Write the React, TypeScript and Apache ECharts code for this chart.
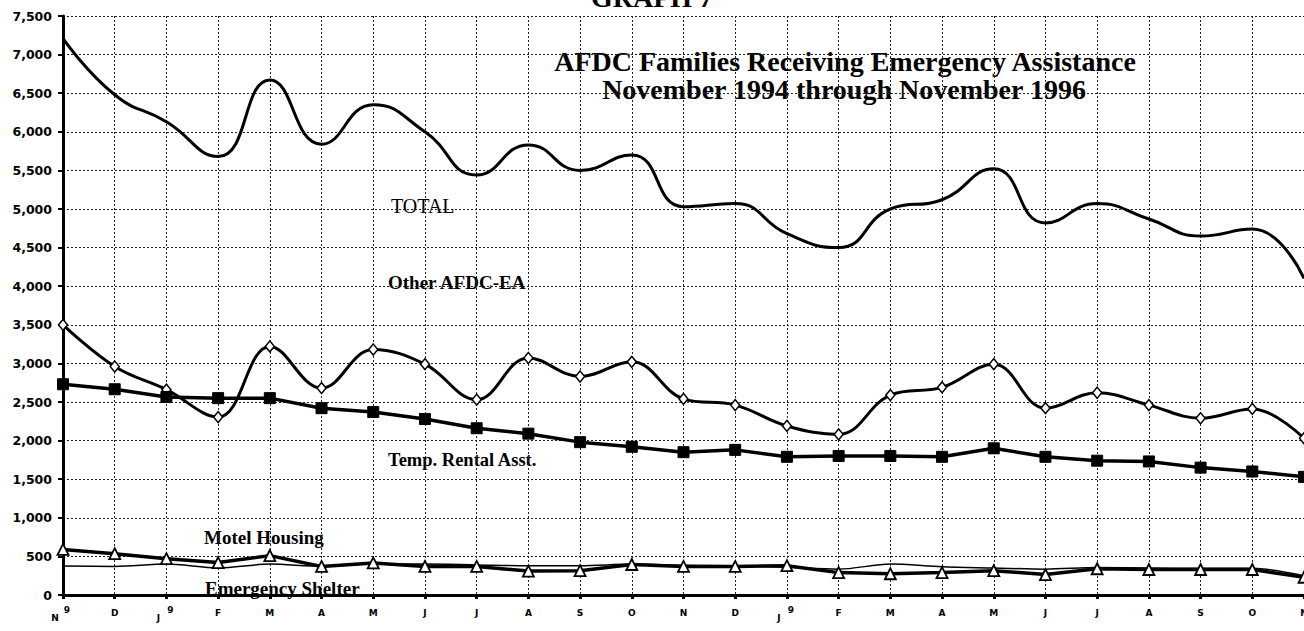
import React, { useEffect, useRef } from "react";
import * as echarts from "echarts";

const categories = [
  "Nov-94", "Dec-94", "Jan-95", "Feb-95", "Mar-95", "Apr-95", "May-95", "Jun-95", "Jul-95",
  "Aug-95", "Sep-95", "Oct-95", "Nov-95", "Dec-95", "Jan-96", "Feb-96", "Mar-96", "Apr-96",
  "May-96", "Jun-96", "Jul-96", "Aug-96", "Sep-96", "Oct-96", "Nov-96",
];
const monthLetters = ["N", "D", "J", "F", "M", "A", "M", "J", "J", "A", "S", "O", "N", "D", "J", "F", "M", "A", "M", "J", "J", "A", "S", "O", "N"];
const yearMarks = ["94", "", "95", "", "", "", "", "", "", "", "", "", "", "", "96", "", "", "", "", "", "", "", "", "", ""];

const total = [7210, 6480, 6130, 5680, 6670, 5840, 6350, 6000, 5440, 5830, 5500, 5700, 5030, 5070, 4680, 4500, 5000, 5120, 5520, 4820, 5070, 4870, 4650, 4740, 4100];
const otherAfdcEa = [3500, 2960, 2660, 2305, 3220, 2680, 3180, 2990, 2530, 3070, 2830, 3020, 2540, 2460, 2190, 2080, 2590, 2690, 2990, 2420, 2620, 2460, 2290, 2410, 2030];
const tempRental = [2730, 2665, 2565, 2550, 2550, 2420, 2370, 2280, 2160, 2090, 1980, 1920, 1850, 1880, 1790, 1800, 1800, 1790, 1900, 1790, 1740, 1730, 1650, 1600, 1530];
const motelHousing = [590, 535, 470, 420, 510, 370, 415, 370, 370, 310, 315, 395, 370, 370, 380, 290, 275, 290, 315, 265, 340, 330, 330, 330, 230];
const emergencyShelter = [375, 370, 400, 350, 400, 370, 400, 400, 390, 380, 380, 400, 385, 380, 360, 335, 400, 365, 350, 335, 355, 350, 345, 345, 250];

const yTicks = { min: 0, max: 7500, interval: 500 };

const serif = "'Liberation Serif', 'Times New Roman', serif";
const sansBold = "'DejaVu Sans', Arial, sans-serif";

export default function App() {
  const ref = useRef<HTMLDivElement>(null);
  useEffect(() => {
    if (!ref.current) return;
    const chart = echarts.init(ref.current, undefined, { renderer: "svg" });
    const labelBase = { color: "#000", fontFamily: sansBold, fontWeight: "bold", fontSize: 9 };
    const option: any = {
      animation: false,
      backgroundColor: "#ffffff",
      grid: { left: 63, right: 0, top: 16, bottom: 36, containLabel: false, outerBoundsMode: "none" },
      xAxis: [
        {
          type: "category",
          data: categories,
          boundaryGap: false,
          axisLine: { lineStyle: { color: "#000", width: 3 } },
          axisTick: { show: true, alignWithLabel: true, length: 4, lineStyle: { color: "#000", width: 3 } },
          splitLine: { show: true, lineStyle: { color: "#222", width: 1, type: [2, 2] } },
          axisLabel: {
            interval: 0,
            margin: 12,
            hideOverlap: false,
            ...labelBase,
            lineHeight: 12,
            formatter: (_v: string, i: number) =>
              yearMarks[i] ? "{s|" + monthLetters[i] + "}" : monthLetters[i],
            rich: { s: { ...labelBase, lineHeight: 12, padding: [9, 16, 0, 0] } },
          },
        },
        {
          type: "category",
          data: categories,
          boundaryGap: false,
          position: "bottom",
          axisLine: { show: false, onZero: false },
          axisTick: { show: false },
          splitLine: { show: false },
          axisLabel: {
            interval: 0,
            margin: 2,
            ...labelBase,
            lineHeight: 26,
            formatter: (_v: string, i: number) =>
              yearMarks[i] ? "{d|" + yearMarks[i][0] + "}\n{d|" + yearMarks[i][1] + "}" : "",
            rich: { d: { ...labelBase, lineHeight: 26, padding: [0, 0, 0, 8] } },
          },
        },
      ],
      yAxis: {
        type: "value",
        min: yTicks.min,
        max: yTicks.max,
        interval: yTicks.interval,
        axisLine: { show: true, lineStyle: { color: "#000", width: 3 } },
        axisTick: { show: true, length: 5, lineStyle: { color: "#000", width: 2 } },
        splitLine: { show: true, lineStyle: { color: "#222", width: 1, type: [2, 2] } },
        axisLabel: {
          margin: 11,
          color: "#000",
          fontFamily: sansBold,
          fontWeight: "bold",
          fontSize: 12.5,
          formatter: (v: number) => v.toLocaleString("en-US"),
        },
      },
      series: [
        {
          name: "TOTAL",
          type: "line",
          data: total,
          smooth: 0.5,
          showSymbol: false,
          symbol: "none",
          lineStyle: { color: "#000", width: 3 },
          z: 3,
        },
        {
          name: "Other AFDC-EA",
          type: "line",
          data: otherAfdcEa,
          smooth: 0.4,
          symbol: "diamond",
          symbolSize: [9, 11],
          itemStyle: { color: "#fff", borderColor: "#000", borderWidth: 1.5 },
          lineStyle: { color: "#000", width: 3 },
          z: 4,
        },
        {
          name: "Temp. Rental Asst.",
          type: "line",
          data: tempRental,
          symbol: "rect",
          symbolSize: 11,
          itemStyle: { color: "#000", borderColor: "#000" },
          lineStyle: { color: "#000", width: 3.5 },
          z: 4,
        },
        {
          name: "Emergency Shelter",
          type: "line",
          data: emergencyShelter,
          smooth: 0.3,
          symbol: "none",
          lineStyle: { color: "#000", width: 1.5 },
          z: 3,
        },
        {
          name: "Motel Housing",
          type: "line",
          data: motelHousing,
          symbol: "triangle",
          symbolSize: 11,
          itemStyle: { color: "#fff", borderColor: "#000", borderWidth: 1.8 },
          lineStyle: { color: "#000", width: 3.5 },
          z: 5,
        },
      ],
      graphic: [
        {
          type: "text", x: 652, y: -3,
          style: { text: "GRAPH 7", fontFamily: serif, fontWeight: "bold", fontSize: 28, fill: "#000", align: "center", verticalAlign: "middle" },
        },
        {
          type: "text", x: 845, y: 61,
          style: { text: "AFDC Families Receiving Emergency Assistance", fontFamily: serif, fontWeight: "bold", fontSize: 28, fill: "#000", align: "center", verticalAlign: "middle" },
        },
        {
          type: "text", x: 844, y: 89,
          style: { text: "November 1994 through November 1996", fontFamily: serif, fontWeight: "bold", fontSize: 28, fill: "#000", align: "center", verticalAlign: "middle" },
        },
        {
          type: "text", x: 391, y: 206,
          style: { text: "TOTAL", fontFamily: serif, fontSize: 20, fill: "#000", align: "left", verticalAlign: "middle" },
        },
        {
          type: "text", x: 388, y: 282,
          style: { text: "Other AFDC-EA", fontFamily: serif, fontWeight: "bold", fontSize: 19, fill: "#000", align: "left", verticalAlign: "middle" },
        },
        {
          type: "text", x: 388, y: 460,
          style: { text: "Temp. Rental Asst.", fontFamily: serif, fontWeight: "bold", fontSize: 18.5, fill: "#000", align: "left", verticalAlign: "middle" },
        },
        {
          type: "text", x: 204, y: 537,
          style: { text: "Motel Housing", fontFamily: serif, fontWeight: "bold", fontSize: 19, fill: "#000", align: "left", verticalAlign: "middle" },
        },
        {
          type: "text", x: 205, y: 588,
          style: { text: "Emergency Shelter", fontFamily: serif, fontWeight: "bold", fontSize: 19, fill: "#000", align: "left", verticalAlign: "middle" },
        },
      ],
    };
    chart.setOption(option);
    return () => chart.dispose();
  }, []);
  return (
    <div
      ref={ref}
      style={{ position: "absolute", left: 0, top: 0, width: 1304, height: 631, background: "#fff" }}
    />
  );
}
